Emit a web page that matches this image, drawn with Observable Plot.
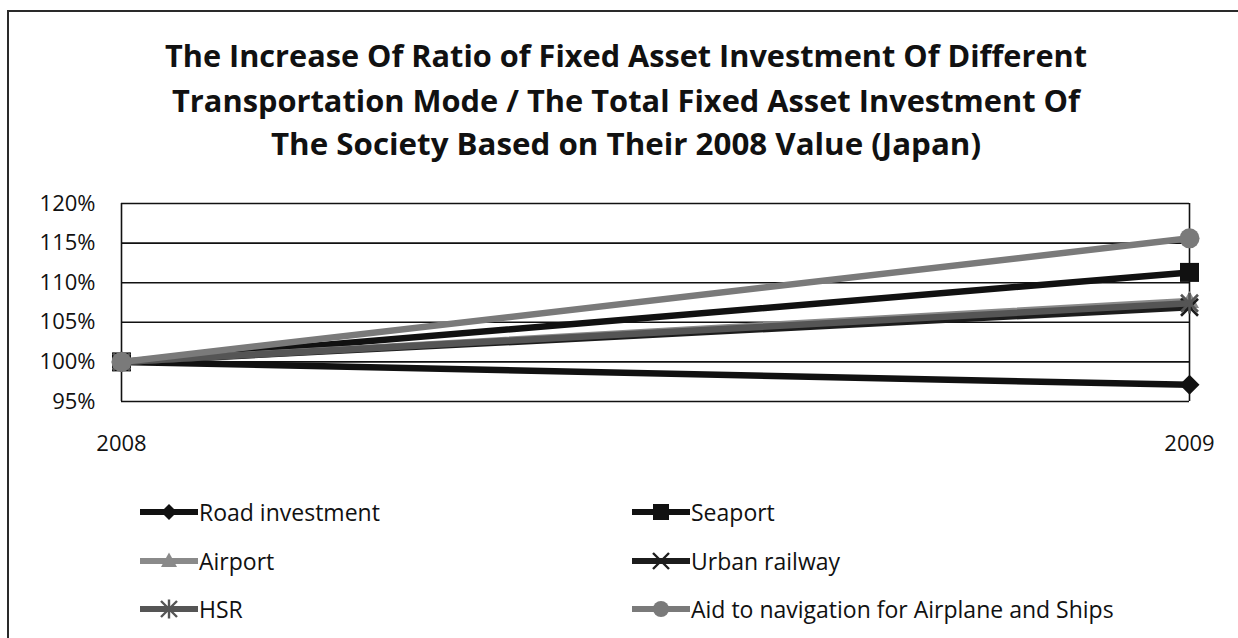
<!DOCTYPE html>
<html>
<head>
<meta charset="utf-8">
<script src="https://cdn.jsdelivr.net/npm/d3@7"></script>
<script src="https://cdn.jsdelivr.net/npm/@observablehq/plot@0.6"></script>
<style>
  html, body { margin: 0; padding: 0; background: #fff; overflow: hidden; width: 1238px; height: 638px; }
  #frame { position: absolute; left: 7px; top: 10px; width: 1300px; height: 700px; border: 2px solid #2a2a2a; box-sizing: border-box; }
  #title { position: absolute; left: 0; top: 0; }
  #chart { position: absolute; left: 0; top: 170px; }
  #legend { position: absolute; left: 0; top: 0; width: 1238px; height: 638px; font-family: "Open Sans", sans-serif; font-size: 23px; color: #111; }
  .item { position: absolute; display: flex; align-items: center; height: 30px; white-space: nowrap; }
  .item svg { display: block; }
</style>
</head>
<body>
<div id="frame"></div>
<svg id="title" width="1238" height="170"></svg>
<div id="chart"></div>
<div id="legend"></div>
<script>
// ---- data ----
const titleLines = [
  "The Increase Of Ratio of Fixed Asset Investment Of Different",
  "Transportation Mode / The Total Fixed Asset Investment Of",
  "The Society Based on Their 2008 Value (Japan)"
];
const years = ["2008", "2009"];
const yTicks = [0.95, 1.00, 1.05, 1.10, 1.15, 1.20];
const seriesNames = ["Road investment", "Seaport", "Airport", "Urban railway", "HSR", "Aid to navigation for Airplane and Ships"];
const roadInvestment = [1.00, 0.971];
const seaport = [1.00, 1.113];
const airport = [1.00, 1.077];
const urbanRailway = [1.00, 1.069];
const hsr = [1.00, 1.074];
const aidToNavigation = [1.00, 1.156];
const seriesValues = [roadInvestment, seaport, airport, urbanRailway, hsr, aidToNavigation];

// ---- marker symbols ----
const rad = size => Math.sqrt(size / Math.PI);
const symDiamond = { draw(c, s) { const r = rad(s); c.moveTo(0, -r); c.lineTo(r, 0); c.lineTo(0, r); c.lineTo(-r, 0); c.closePath(); } };
const symSquare = { draw(c, s) { const r = rad(s); c.rect(-r, -r, 2 * r, 2 * r); } };
const symTriangle = { draw(c, s) { const r = rad(s); c.moveTo(0, -r * 1.05); c.lineTo(r, r * 0.75); c.lineTo(-r, r * 0.75); c.closePath(); } };
const symTimes = { draw(c, s) { const r = rad(s); c.moveTo(-r, -r); c.lineTo(r, r); c.moveTo(r, -r); c.lineTo(-r, r); } };
const symStar = { draw(c, s) { const r = rad(s); c.moveTo(-r, -r); c.lineTo(r, r); c.moveTo(r, -r); c.lineTo(-r, r); c.moveTo(0, -r * 1.2); c.lineTo(0, r * 1.2); } };
const symCircle = { draw(c, s) { const r = rad(s); c.moveTo(r, 0); c.arc(0, 0, r, 0, 2 * Math.PI); } };

const styles = [
  { color: "#111111", symbol: symDiamond, filled: true, r: 10 },
  { color: "#111111", symbol: symSquare, filled: true, r: 9.5 },
  { color: "#8a8a8a", symbol: symTriangle, filled: true, r: 9.5 },
  { color: "#1c1c1c", symbol: symTimes, filled: false, r: 8.5 },
  { color: "#555555", symbol: symStar, filled: false, r: 8.5 },
  { color: "#7a7a7a", symbol: symCircle, filled: true, r: 10 }
];

const rows = seriesNames.map((name, k) => years.map((year, i) => ({ series: name, year, value: seriesValues[k][i] })));

// ---- title ----
const titleSvg = d3.select("#title");
const titleBaselines = [67, 112, 155];
const titleWidths = [922, 908, 710];
titleLines.forEach((t, i) => {
  titleSvg.append("text")
    .attr("x", 626).attr("y", titleBaselines[i])
    .attr("text-anchor", "middle")
    .attr("font-family", "Open Sans, sans-serif")
    .attr("font-weight", 700)
    .attr("font-size", 31)
    .attr("fill", "#111")
    .attr("textLength", titleWidths[i])
    .attr("lengthAdjust", "spacingAndGlyphs")
    .text(t);
});

// ---- chart ----
const fmt = d => Math.round(d * 100) + "%";
const marks = [
  Plot.ruleY(yTicks, { stroke: "#111", strokeWidth: 1.6 }),
  Plot.ruleX(years, { stroke: "#111", strokeWidth: 1.6 }),
  Plot.axisY({ ticks: yTicks, tickSize: 0, tickPadding: 26, tickFormat: fmt, label: null }),
  Plot.axisX({ tickSize: 0, tickPadding: 34, label: null })
];
rows.forEach((data, k) => {
  const st = styles[k];
  marks.push(Plot.line(data, { x: "year", y: "value", stroke: st.color, strokeWidth: 6.5 }));
  marks.push(Plot.dot(data, st.filled
    ? { x: "year", y: "value", symbol: st.symbol, r: st.r, fill: st.color, stroke: "none" }
    : { x: "year", y: "value", symbol: st.symbol, r: st.r, fill: "none", stroke: st.color, strokeWidth: 2.6 }));
});

const chart = Plot.plot({
  width: 1238,
  height: 300,
  marginLeft: 121,
  marginRight: 49,
  marginTop: 33,
  marginBottom: 69,
  x: { type: "point", domain: years, padding: 0 },
  y: { domain: [0.95, 1.20] },
  style: { fontFamily: "Open Sans, sans-serif", fontSize: "22px", color: "#111", background: "transparent", overflow: "visible" },
  marks
});
document.getElementById("chart").appendChild(chart);

// ---- legend ----
const legend = d3.select("#legend");
const colX = [140, 632];
const rowY = [512, 561, 609];
seriesNames.forEach((name, k) => {
  const st = styles[k];
  const col = k % 2, row = Math.floor(k / 2);
  const item = legend.append("div").attr("class", "item")
    .style("left", colX[col] + "px").style("top", (rowY[row] - 15) + "px");
  const sw = item.append("svg").attr("width", 58).attr("height", 30);
  sw.append("line").attr("x1", 0).attr("x2", 58).attr("y1", 15).attr("y2", 15)
    .attr("stroke", st.color).attr("stroke-width", 6);
  const sym = d3.symbol(st.symbol, Math.PI * 8 * 8);
  sw.append("path").attr("transform", "translate(29,15)").attr("d", sym())
    .attr("fill", st.filled ? st.color : "none")
    .attr("stroke", st.filled ? "none" : st.color)
    .attr("stroke-width", st.filled ? 0 : 2.4);
  item.append("span").style("margin-left", "1px").text(name);
});
</script>
</body>
</html>
